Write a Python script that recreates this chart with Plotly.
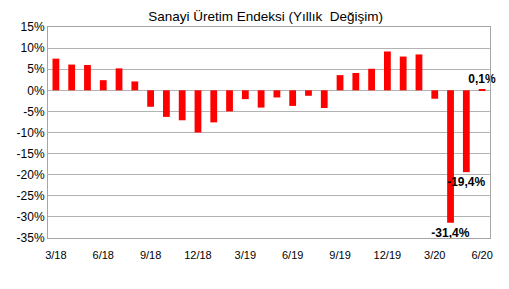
import plotly.graph_objects as go

months = ["3/18","4/18","5/18","6/18","7/18","8/18","9/18","10/18","11/18","12/18",
          "1/19","2/19","3/19","4/19","5/19","6/19","7/19","8/19","9/19","10/19","11/19","12/19",
          "1/20","2/20","3/20","4/20","5/20","6/20"]
values = [7.5, 6.1, 6.0, 2.4, 5.2, 2.1, -3.9, -6.3, -7.1, -10.0,
          -7.6, -5.0, -2.1, -4.1, -1.7, -3.7, -1.3, -4.2, 3.6, 4.1, 5.1, 9.2,
          8.0, 8.5, -2.0, -31.4, -19.4, 0.1]
labels = [""] * 25 + ["-31,4%", "-19,4%", "0,1%"]
x_ticks = ["3/18","6/18","9/18","12/18","3/19","6/19","9/19","12/19","3/20","6/20"]
y_ticks = [15, 10, 5, 0, -5, -10, -15, -20, -25, -30, -35]
y_ticktext = [f"{v}%" for v in y_ticks]

fig = go.Figure(go.Bar(
    x=months, y=values, text=labels, textposition="outside",
    textfont=dict(family="Liberation Sans, Arial", size=12, color="#000000", weight="bold"),
    constraintext="none", cliponaxis=False,
    marker=dict(color="#FF0000", line=dict(width=0)),
))
fig.update_layout(
    width=509, height=289,
    margin=dict(l=48, r=19, t=27, b=51),
    paper_bgcolor="white", plot_bgcolor="white",
    bargap=0.57, showlegend=False,
    font=dict(family="Liberation Sans, Arial", color="#000000"),
    title=dict(text="Sanayi Üretim Endeksi (Yıllık  Değişim)", x=0.522, xanchor="center",
               y=0.945, yanchor="middle", font=dict(size=13.5)),
)
fig.update_xaxes(type="category", tickvals=x_ticks, ticktext=x_ticks, tickfont=dict(size=11),
                 showgrid=False, ticks="", ticklabelstandoff=7,
                 showline=True, linecolor="#A6A6A6", mirror=True)
fig.update_yaxes(range=[-35, 15], tickvals=y_ticks, ticktext=y_ticktext, tickfont=dict(size=12),
                 showgrid=True, gridcolor="#B3B3B3", zeroline=False, ticks="",
                 showline=True, linecolor="#A6A6A6", mirror=True)
fig.write_html("out.html")
